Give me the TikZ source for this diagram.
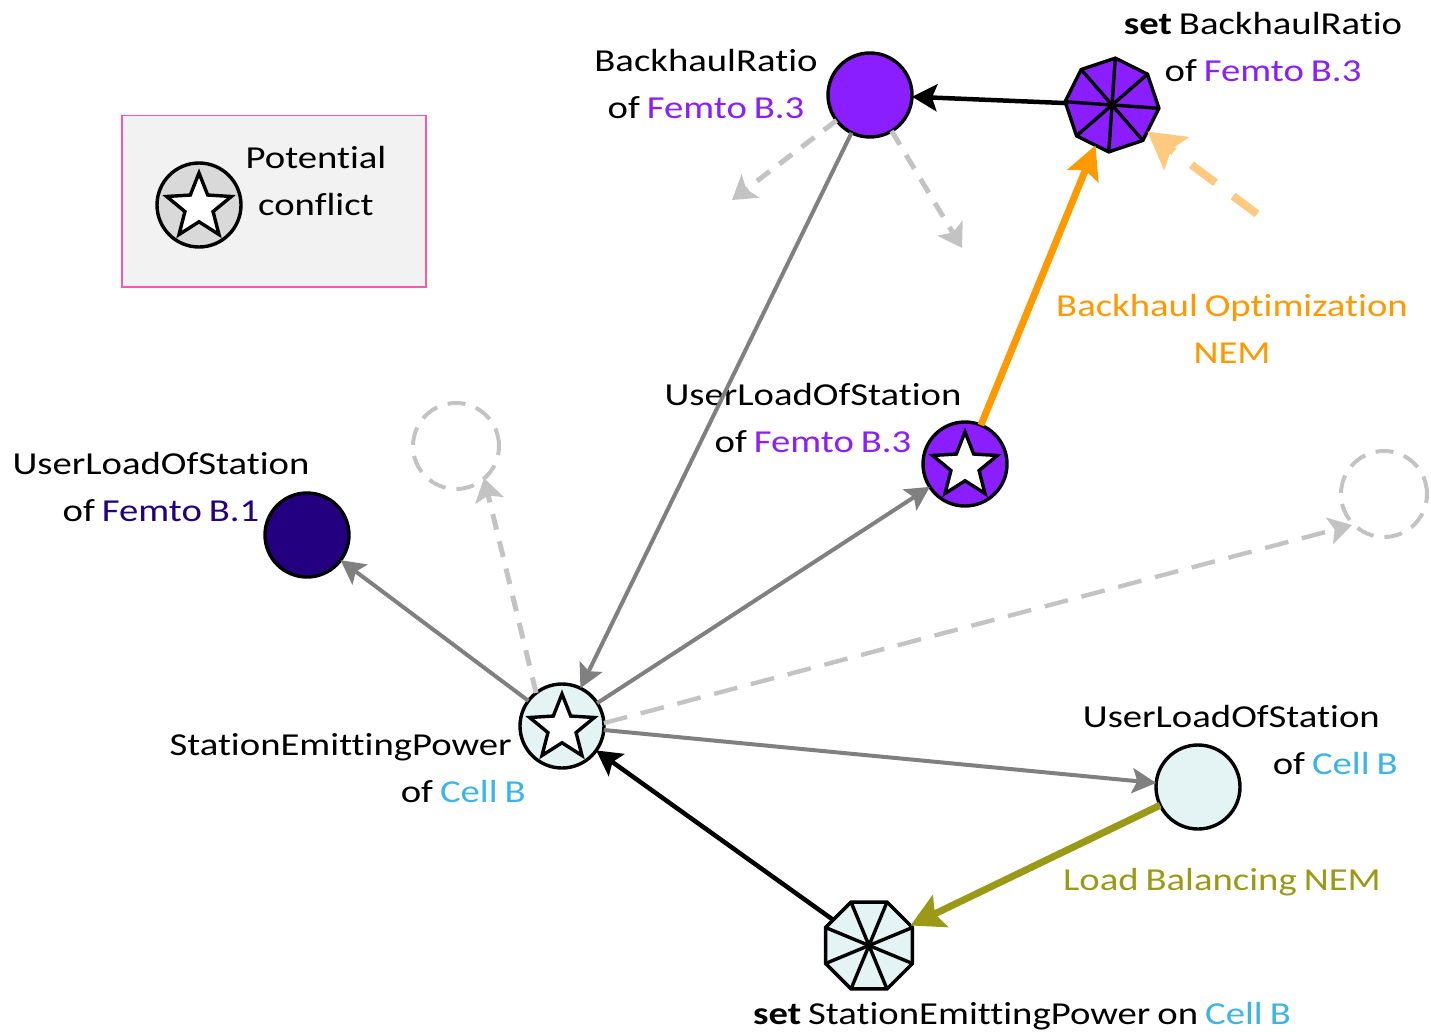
\documentclass[tikz,border=0pt]{standalone}
\usepackage{fontspec}
\setmainfont{Carlito}[FakeStretch=1.21, Ligatures=NoCommon, WordSpace=0.8]
\usetikzlibrary{arrows.meta,shapes.geometric}
\definecolor{vio}{HTML}{8B1EFF}
\definecolor{indig}{HTML}{220080}
\definecolor{lcyan}{HTML}{E4F3F3}
\definecolor{cyanT}{HTML}{3CB4E5}
\definecolor{orA}{HTML}{FF9900}
\definecolor{orL}{HTML}{FFC97F}
\definecolor{olv}{HTML}{9A9A18}
\definecolor{grA}{HTML}{808080}
\definecolor{grL}{HTML}{C3C3C3}
\definecolor{pinkB}{HTML}{FF55AA}
\definecolor{legbg}{HTML}{F2F2F2}
\definecolor{legst}{HTML}{D9D9D9}
\begin{document}
\begin{tikzpicture}[x=1pt,y=-1pt,
  stn/.style={circle, draw=black, line width=3.4pt, minimum size=84pt, inner sep=0pt, outer sep=0pt},
  strshape/.style={star, star points=5, star point ratio=2.3, draw=black, fill=white, line width=3.4pt, minimum size=68pt, inner sep=0pt, outer sep=0pt},
  octo/.style={regular polygon, regular polygon sides=8, draw=black, line width=3.4pt, minimum size=94pt, inner sep=0pt, outer sep=0pt},
  spoke/.style={line width=3.4pt},
  dcirc/.style={circle, draw=grL, line width=4pt, dash pattern=on 18pt off 11pt, minimum size=86pt, inner sep=0pt},
  lbl/.style={font=\fontsize{32}{47}\selectfont, align=center, inner sep=0pt},
  ga/.style={draw=grA, line width=4pt, -{Stealth[length=24pt,width=25pt,inset=5pt]}},
  ba/.style={draw=black, line width=4.5pt, -{Stealth[length=25pt,width=27pt,inset=5pt]}},
  dg/.style={draw=grL, line width=5pt, dash pattern=on 16pt off 12pt, -{Stealth[length=23pt,width=29pt,inset=5pt]}},
  dgl/.style={draw=grL, line width=4.4pt, dash pattern=on 24pt off 14pt, -{Stealth[length=23pt,width=27pt,inset=5pt]}},
  oa/.style={draw=orA, line width=7pt, -{Stealth[length=33pt,width=33pt,inset=6pt]}},
  ola/.style={draw=olv, line width=7pt, -{Stealth[length=33pt,width=35pt,inset=6pt]}},
  loa/.style={draw=orL, line width=8pt, dash pattern=on 30pt off 22pt, -{Stealth[length=36pt,width=40pt,inset=6pt]}}
]
\useasboundingbox (0,0) rectangle (1431,1032);

% legend
\node[draw=pinkB, fill=legbg, line width=1.5pt, minimum width=304pt, minimum height=171pt, anchor=north west, inner sep=0pt] (leg) at (121,115) {};
\node[stn, fill=legst] (legc) at (199,205) {};
\node[strshape] (legs) at (199,207) {};
\node[lbl] (legt) at (316,181.5) {Potential\\conflict};

% nodes
\node[stn, fill=vio] (BR) at (870,95) {};
\node[octo, fill=vio, shape border rotate=18.5] (setBR) at (1112,105) {};
\foreach \i in {1,...,8} \draw[spoke] (setBR.center) -- (setBR.corner \i);
\node[stn, fill=vio] (FB3) at (965,464) {};
\node[strshape] (FB3s) at (965,466) {};
\node[stn, fill=indig] (FB1) at (307,535) {};
\node[stn, fill=lcyan] (SEP) at (562,726) {};
\node[strshape] (SEPs) at (562,728) {};
\node[stn, fill=lcyan] (CB) at (1198,787) {};
\node[octo, fill=lcyan] (setSEP) at (869,945.5) {};
\foreach \i in {1,...,8} \draw[spoke] (setSEP.center) -- (setSEP.corner \i);
\node[dcirc] (dc1) at (456,446) {};
\node[dcirc] (dc2) at (1384,494) {};

% labels
\node[lbl] (BRl) at (706,84) {BackhaulRatio\\of {\color{vio}Femto B.3}};
\node[lbl] (setBRl) at (1263,47.5) {\textbf{set} BackhaulRatio\\of {\color{vio}Femto B.3}};
\node[lbl] (FB3l) at (813,418.5) {UserLoadOfStation\\of {\color{vio}Femto B.3}};
\node[lbl] (FB1l) at (161,487) {UserLoadOfStation\\of {\color{indig}Femto B.1}};
\node[lbl, align=right, anchor=east] (SEPl) at (526,768.5) {StationEmittingPower\hspace*{14pt}\\of {\color{cyanT}Cell B}};
\node[lbl, align=right, anchor=east] (CBl) at (1398,739.5) {UserLoadOfStation\hspace*{18pt}\\of {\color{cyanT}Cell B}};
\node[lbl, text=orA] (BOl) at (1232,328.5) {Backhaul Optimization\\NEM};
\node[lbl, text=olv] (LBl) at (1222,882) {Load Balancing NEM};
\node[lbl] (setSEPl) at (1022,1016) {\textbf{set} StationEmittingPower on {\color{cyanT}Cell B}};

% free ends
\coordinate (d1) at (732,200);
\coordinate (d2) at (962,248);
\coordinate (lo) at (1257,214);
\coordinate (t1) at (484,478);
\coordinate (t2) at (1352,525);

% connectors
\draw[dg] (BR) -- (d1);
\draw[dg] (BR) -- (d2);
\draw[dg] (SEP.128) -- (t1);
\draw[dgl] (SEP.4) -- (t2);
\draw[loa] (lo) -- (setBR);
\draw[ba] (setBR) -- (BR);
\draw[ga] (BR) -- (SEP);
\draw[oa] (FB3) -- (setBR);
\draw[ga] (SEP) -- (FB3);
\draw[ga] (SEP) -- (FB1);
\draw[ga] (SEP) -- (CB);
\draw[ba] (setSEP) -- (SEP);
\draw[ola] (CB) -- (setSEP);
\end{tikzpicture}
\end{document}
